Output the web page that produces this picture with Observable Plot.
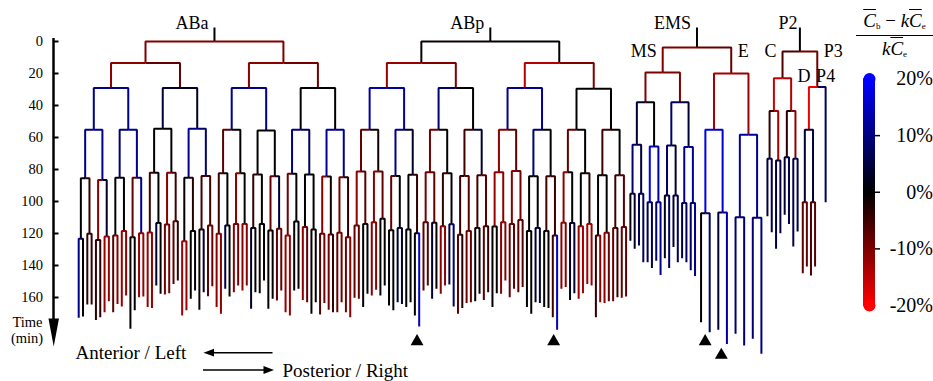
<!DOCTYPE html>
<html><head><meta charset="utf-8">
<script src="https://cdn.jsdelivr.net/npm/d3@7"></script>
<script src="https://cdn.jsdelivr.net/npm/@observablehq/plot@0.6"></script>
<style>
html,body{margin:0;padding:0;background:#fff;}
#wrap{position:relative;width:933px;height:381px;overflow:hidden;font-family:"Liberation Serif",serif;}
#wrap svg{position:absolute;top:0;}
#wrap svg text{font-family:"Liberation Serif",serif;}
#cbtitle{position:absolute;left:856px;top:10px;width:77px;font-family:"Liberation Serif",serif;font-size:19px;text-align:center;color:#000;line-height:1.15;}
#cbtitle .num{border-bottom:1.4px solid #000;padding-bottom:3px;white-space:nowrap;}
#cbtitle .den{padding-top:2px;white-space:nowrap;}
#cbtitle .ov{font-style:italic;text-decoration:overline;}
#cbtitle sub{font-size:9px;vertical-align:-2px;}
</style></head>
<body><div id="wrap"><div id="cbtitle"><div class="num"><span class="ov">C</span><sub>b</sub> &#8722; <i>k</i><span class="ov">C</span><sub>e</sub></div><div class="den"><i>k</i><span class="ov">C</span><sub>e</sub></div></div></div>
<script>
// ================= DATA (minutes, and colour value in %) =================
// AB lineage, level by level (ABa, ABp and their descendants, left to right)
const abDiv0 = [0, 0];
const abVal0 = [0, 0];
const abDiv1 = [13.5, 13.5, 13.5, 13.5];
const abVal1 = [-10, -10, -1, 0];
const abDiv2 = [29, 29, 29, 29, 29, 29, 29, 29.6];
const abVal2 = [-11, -8, -11, -9, -12, -10, -14, -10];
const abDiv3 = [55.2, 55.2, 54.6, 54.6, 55.2, 55.6, 55.2, 55.2, 55.2, 55.2, 55.2, 55.2, 55.2, 55.2, 55.2, 55.2];
const abVal3 = [11, 11, 4, 3, 11, 10, 0, 0, 13, 13, 9, 0, 11, 12, 0, 0];
const abDiv4 = [85.4, 86.5, 85.2, 85.2, 82.1, 82.1, 85.2, 84, 82.3, 82.3, 83.1, 84.2, 82.7, 83.1, 84.4, 84.8,
                81.3, 81.3, 84, 83.3, 81.7, 82.3, 84, 83.6, 81.7, 81, 84.2, 84.2, 81.7, 82.3, 83.6, 83.6];
const abVal4 = [11, 11, 9, 11, 0, 0, 11, 9, -7, 0, 0, 0, 11, 7, 12, 11,
                -8, -1, 11, 3, -9, 0, -5, 4, -11, -7, 9, 0, -8, 0, -5, 0];
const abDiv5 = [123.3, 120.2, 124, 121.9, 121.3, 118.5, 122.3, 119.8, 119.4, 113.5, 114.4, 112.3, 124.8, 118.5, 117.5, 115,
                120.2, 115, 114, 114, 116.5, 114, 118.1, 117.1, 121.3, 112.5, 116, 117.5, 120.2, 120.6, 119.6, 122.3,
                115, 114, 112.9, 110.8, 118, 116.5, 117.5, 119.8, 112.9, 113.3, 115.4, 114.2, 120.8, 118.5, 116.5, 115.4,
                115.6, 112.9, 114, 111.5, 118.5, 116.5, 118.5, 121.3, 113.3, 113.5, 115.4, 114, 121.3, 119.6, 116.5, 116];
const abVal5 = [0, -4, -11, 3, 0, 0, -8, 11, -5, 0, -11, -5, 0, -3, -5, -5,
                -5, 0, -11, 0, -4, 0, -8, 4, -9, 0, 0, 0, -11, -1, -9, -3,
                -11, -7, -11, -8, -8, 0, 0, -4, -9, -8, -4, 1, -4, -7, -5, -7,
                -12, -11, -11, -9, 0, 0, -5, -4, -11, 0, 0, -3, 0, 0, -5, -7];
const abEnd6 = [172.7, 171.9, 164.4, 164.4, 174, 172.3, 169.2, 162.3, 169.2, 164, 165.6, 158.8, 179.6, 168, 159.8, 159.4,
                166, 166.5, 152.5, 157.7, 158.1, 157.3, 151.5, 149.4, 171.3, 168, 160.8, 155.6, 167.7, 156.7, 159.2, 153,
                166, 170.2, 154.6, 159.4, 156.7, 152.5, 155.6, 152.5, 167.1, 156.7, 157.3, 149.4, 167.1, 160.8, 161.9, 155.6,
                169.2, 171.3, 155.6, 154.6, 161.5, 162.9, 170.2, 162.9, 170.6, 163.5, 167.7, 169.2, 169.2, 162.9, 169.2, 172.3,
                160.2, 160.8, 166, 157.7, 158.8, 155.2, 158.8, 152.5, 165, 168, 162.9, 164, 166, 162.9, 171.3, 178.1,
                155.6, 152.5, 160.8, 154.6, 157.7, 152.5, 151.9, 165.6, 170.2, 166.5, 163.5, 162.9, 162.3, 157.7, 161.5, 156.7,
                166, 157.3, 157.7, 149.4, 159.8, 154.6, 156.7, 153.5, 166, 170.2, 162.9, 163.5, 166, 166.5, 172.3, 180.2,
                154.6, 153.5, 161.5, 157.3, 160.8, 157.3, 151.5, 152.5, 172.3, 162.9, 163.5, 162.3, 162.3, 159.8, 160.2, 159.4];
const abVal6 = [11, 0, -4, -4, -4, -3, -12, -12, -7, -11, -12, -11, 0, 0, -12, -12,
                -12, -12, 4, 0, -9, -9, -7, -4, -13, -12, 0, 0, -1, 3, -8, -8,
                -11, -11, 5, 0, -11, -9, -11, -11, 3, 0, -1, 0, 0, 0, -8, -8,
                -12, -12, 0, 0, -11, -8, 0, 0, -7, -9, -9, -4, -8, -9, -9, -11,
                -8, -8, 0, 0, -11, -11, 0, 0, 0, 0, 4, 4, 0, 0, 0, 16,
                -7, -7, 3, 0, -11, -11, 5, 9, -7, -3, -9, -8, 0, -1, -7, -4,
                0, 0, -11, -11, -8, -8, -7, -7, 0, 0, 4, 4, 0, 0, -5, 16,
                -11, -11, 3, 4, -12, -13, -13, -12, -4, -11, -11, -8, -8, -4, -8, -8];
// EMS lineage
const emsDiv = [3.75];
const emsVal = [0];
const msDiv0 = [19.4];
const msVal0 = [-10];
const msDiv1 = [38, 38];
const msVal1 = [-10, -10];
const msDiv2 = [64.6, 65.6, 65, 66];
const msVal2 = [4, 0, 8, 4];
const msDiv3 = [95.2, 95.2, 100.4, 100.4, 96.3, 96.3, 101, 101];
const msVal3 = [9, 5, 18, 12, 8, 4, 11, 12];
const msEnd4 = [124.5, 129.5, 127.5, 138, 138, 141.5, 137, 146, 135.5, 141.5, 128.5, 138, 135.5, 138, 143, 146.5];
const msVal4 = [1, 3, 7, 7, 7, 7, 8, 11, 2, 7, 4, 7, 6, 7, 8, 11];
const eDiv0 = [20];
const eVal0 = [-8];
const eDiv1 = [55.2, 58.3];
const eVal1 = [-13, -12];
const eDiv2 = [107.3, 106.9, 109.8, 110.2];
const eVal2 = [18, 16, 13, 12];
const eEnd3 = [175.4, 181.7, 180.2, 189, 182.7, 190, 185.8, 195.2];
const eVal3 = [0, 8, 4, 13, 9, 9, 9, 10];
// P2 lineage
const p2Div = [6.25];
const p2Val = [0];
const cDiv0 = [23];
const cVal0 = [-6];
const cDiv1 = [43.5, 43.5];
const cVal1 = [-16, -14];
const cDiv2 = [73.3, 74.4, 72.3, 73.3];
const cVal2 = [-4, -13, -3, -11];
const cEnd3 = [109.2, 119.2, 129.6, 119.8, 108.3, 114, 128.1, 118.8];
const cVal3 = [5, 6, 5, 5, 4, 6, 6, 6];
const p3Div = [28.5];
const p3Val = [-9];
const dDiv0 = [55.2];
const dVal0 = [-19];
const dDiv1 = [100.4, 100.4];
const dVal1 = [4, 5];
const dEnd2 = [144.8, 140.6, 146.3, 140.6];
const dVal2 = [-7, -8, -6, -7];
const p4End = [100.4];
const p4Val = [7];
// axis ticks, colour bar ticks, arrowhead markers
const timeTicks = [0, 20, 40, 60, 80, 100, 120, 140, 160];
const cbTicks = [20, 10, 0, -10, -20];
const markSlot = [78.5, 110.2, 145.35, 149.1];
const markTime = [187.5, 187.5, 187.5, 196];

// ================= TREE BUILD =================
const STUB = -8.75;
const nodes = [];
function addNode(parent, end, val) {
  const n = {parent, end, val, children: [], birth: parent ? parent.end : STUB};
  if (parent) parent.children.push(n);
  nodes.push(n);
  return n;
}
function grow(parents, ends, vals) {
  let prev = parents, all = [];
  for (let k = 0; k < ends.length; k++) {
    const per = ends[k].length / prev.length;
    const p = prev;
    prev = ends[k].map((e, i) => addNode(p[Math.floor(i / per)], e, vals[k][i]));
    all.push(prev);
  }
  return all;
}
const ab = grow([null, null], [abDiv0, abDiv1, abDiv2, abDiv3, abDiv4, abDiv5, abEnd6],
                [abVal0, abVal1, abVal2, abVal3, abVal4, abVal5, abVal6]);
const ems = addNode(null, emsDiv[0], emsVal[0]);
const ms = grow([ems], [msDiv0, msDiv1, msDiv2, msDiv3, msEnd4], [msVal0, msVal1, msVal2, msVal3, msVal4]);
const e = grow([ems], [eDiv0, eDiv1, eDiv2, eEnd3], [eVal0, eVal1, eVal2, eVal3]);
const p2 = addNode(null, p2Div[0], p2Val[0]);
const c = grow([p2], [cDiv0, cDiv1, cDiv2, cEnd3], [cVal0, cVal1, cVal2, cVal3]);
const p3 = addNode(p2, p3Div[0], p3Val[0]);
const d = grow([p3], [dDiv0, dDiv1, dEnd2], [dVal0, dVal1, dVal2]);
const p4 = addNode(p3, p4End[0], p4Val[0]);

// leaf slots (layout)
function place(leaves, start, gap) { leaves.forEach((n, i) => n.x = start + gap * i); }
place(ab[ab.length - 1], 0, 1);
place(ms[ms.length - 1], 128, 1);
place(e[e.length - 1], 144.4, 2);
place(c[c.length - 1], 159.8, 1);
place(d[d.length - 1], 168, 0.95);
place([p4], 173.3, 1);
function setX(n) { if (n.children.length) n.x = d3.mean(n.children, setX); return n.x; }
nodes.filter(n => !n.parent).forEach(setX);

const pts = nodes.flatMap((n, id) => {
  const px = n.parent ? n.parent.x : n.x;
  return [{id, x: px, y: n.birth, v: n.val}, {id, x: n.x, y: n.birth, v: n.val}, {id, x: n.x, y: n.end, v: n.val}];
});

// ================= SCALES / HELPERS =================
const X0 = 78.2, DX = 4.31, Y0 = 41, DY = 1.6;
const sx = px => (px - X0) / DX;
const ty = py => (py - Y0) / DY;
const colorOpts = {type: "linear", domain: [-20, 0, 20], range: ["#ff0000", "#000000", "#0000ff"], clamp: true};
const FONT = "'Liberation Serif', serif";
const tri = (pts) => pts.map(([a, b]) => ({x: sx(a), y: ty(b)}));

// lineage labels (offset in px from the node)
const labelsEnd = [
  {n: ab[0][0], t: "ABa", off: -6, y: -8.1},
  {n: ab[0][1], t: "ABp", off: -6, y: -8.1},
  {n: ems, t: "EMS", off: -6, y: -8.1},
  {n: p2, t: "P2", off: -2.5, y: -8.1},
  {n: ms[0][0], t: "MS", off: -6, y: 9.4},
  {n: c[0][0], t: "C", off: -6, y: 9.4}
];
const labelsStart = [
  {n: e[0][0], t: "E", off: 6.5, y: 9.4},
  {n: p3, t: "P3", off: 6.5, y: 9.4}
];
const labelsMid = [
  {n: d[0][0], t: "D", off: -5, y: 25.6},
  {n: p4, t: "P4", off: 0, y: 25.6}
];
const labelMark = (arr, anchor) => Plot.text(arr, {x: l => l.n.x + l.off / DX, y: "y", text: "t", textAnchor: anchor,
  lineAnchor: "bottom", fontSize: 18, fontFamily: FONT, fill: "black"});

const main = Plot.plot({
  width: 933, height: 381, margin: 0,
  style: {fontFamily: FONT, background: "transparent", overflow: "visible"},
  x: {domain: [0, 100], range: [X0, X0 + 100 * DX], axis: null},
  y: {domain: [0, 100], range: [Y0, Y0 + 100 * DY], axis: null},
  color: colorOpts,
  marks: [
    Plot.line(pts, {x: "x", y: "y", z: "id", stroke: "v", strokeWidth: 2, strokeLinejoin: "miter", strokeLinecap: "butt"}),
    labelMark(labelsEnd, "end"),
    labelMark(labelsStart, "start"),
    labelMark(labelsMid, "middle"),
    // time axis
    Plot.ruleX([sx(53)], {y1: ty(38), y2: ty(325), stroke: "black", strokeWidth: 2.5}),
    Plot.line(tri([[48, 318], [58.5, 318], [53.2, 346]]), {x: "x", y: "y", fill: "black", stroke: "none"}),
    Plot.ruleY(timeTicks, {x1: sx(53), x2: sx(58.5), stroke: "black", strokeWidth: 2}),
    Plot.text(timeTicks, {x: sx(42.5), y: t => t, text: t => String(t), textAnchor: "end", fontSize: 14.5, fontFamily: FONT, fill: "black"}),
    Plot.text(["Time"], {x: sx(27), y: ty(326.5), text: d => d, textAnchor: "middle", lineAnchor: "bottom", fontSize: 14.5, fontFamily: FONT}),
    Plot.text(["(min)"], {x: sx(26.5), y: ty(342), text: d => d, textAnchor: "middle", lineAnchor: "bottom", fontSize: 14.5, fontFamily: FONT}),
    // markers
    Plot.dot(markSlot.map((s, i) => ({s, t: markTime[i]})), {x: "s", y: "t", symbol: "triangle", r: 4.8, fill: "black", stroke: "none"}),
    // direction arrows
    Plot.link([0], {x1: sx(211), y1: ty(352.2), x2: sx(272), y2: ty(352.2), stroke: "black", strokeWidth: 1.6}),
    Plot.line(tri([[203, 352.2], [213.5, 348.3], [213.5, 356.1]]), {x: "x", y: "y", fill: "black", stroke: "none"}),
    Plot.link([0], {x1: sx(202.5), y1: ty(369.5), x2: sx(265), y2: ty(369.5), stroke: "black", strokeWidth: 1.6}),
    Plot.line(tri([[273.5, 369.5], [263, 365.6], [263, 373.4]]), {x: "x", y: "y", fill: "black", stroke: "none"}),
    Plot.text(["Anterior / Left"], {x: sx(75), y: ty(358.5), text: d => d, textAnchor: "start", lineAnchor: "bottom", fontSize: 19, fontFamily: FONT}),
    Plot.text(["Posterior / Right"], {x: sx(282), y: ty(376.5), text: d => d, textAnchor: "start", lineAnchor: "bottom", fontSize: 19, fontFamily: FONT})
  ]
});
main.style.left = "0px";
document.getElementById("wrap").appendChild(main);

// colour bar
const ramp = d3.range(-20, 20.001, 0.1);
const cb = Plot.plot({
  width: 110, height: 381, margin: 0,
  style: {fontFamily: FONT, background: "transparent"},
  x: {domain: [0, 110], range: [0, 110], axis: null},
  y: {domain: [-20, 20], range: [305, 78.5], axis: null},
  color: colorOpts,
  marks: [
    Plot.ruleY(ramp, {y: v => v, x1: 40, x2: 52, stroke: v => v, strokeWidth: 1.5}),
    Plot.dot([20, -20], {x: 46, y: v => v, r: 6, fill: v => v, stroke: "none"}),
    Plot.ruleY([10, 0, -10], {y: v => v, x1: 52, x2: 57, stroke: "black", strokeWidth: 1.5}),
    Plot.text(cbTicks, {x: 109.5, y: v => v, text: v => v + "%", textAnchor: "end", fontSize: 20, fontFamily: FONT, fill: "black"})
  ]
});
cb.style.left = "823px";
document.getElementById("wrap").appendChild(cb);
</script></body></html>
